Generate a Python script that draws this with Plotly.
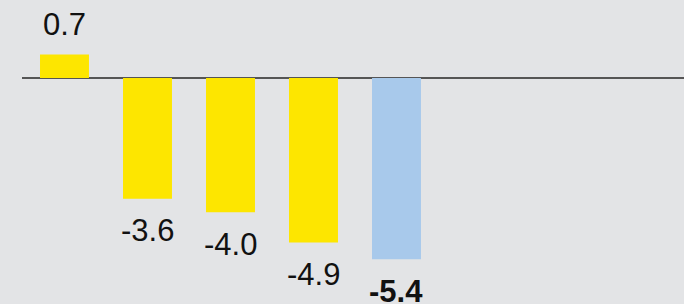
import plotly.graph_objects as go

categories = [0, 1, 2, 3, 4]
values = [0.7, -3.6, -4.0, -4.9, -5.4]
labels = ["0.7", "-3.6", "-4.0", "-4.9", "<b>-5.4</b>"]
colors = ["#fde600", "#fde600", "#fde600", "#fde600", "#a8c9eb"]

fig = go.Figure()
fig.add_trace(go.Bar(
    x=categories, y=values, marker=dict(color=colors, line=dict(width=0)),
    width=0.59, hoverinfo="skip",
))

for c, v, t in zip(categories, values, labels):
    fig.add_annotation(
        x=c, y=v, text=t, showarrow=False,
        yshift=30 if v > 0 else -32,
        font=dict(family="Liberation Sans, Arial, sans-serif", size=31, color="#111111"),
    )

fig.update_layout(
    width=684, height=304,
    margin=dict(l=22, r=0, t=0, b=0),
    paper_bgcolor="#e3e4e6", plot_bgcolor="rgba(0,0,0,0)",
    showlegend=False,
    xaxis=dict(range=[-0.512, 7.464], visible=False, fixedrange=True),
    yaxis=dict(range=[-6.73, 2.32], showgrid=False, showticklabels=False,
               zeroline=True, zerolinecolor="#555555", zerolinewidth=1.5,
               fixedrange=True),
)

fig.write_html(
    "out.html",
    config={"displayModeBar": False},
    post_script="document.body.style.margin='0';document.body.style.padding='0';document.body.style.overflow='hidden';",
)
